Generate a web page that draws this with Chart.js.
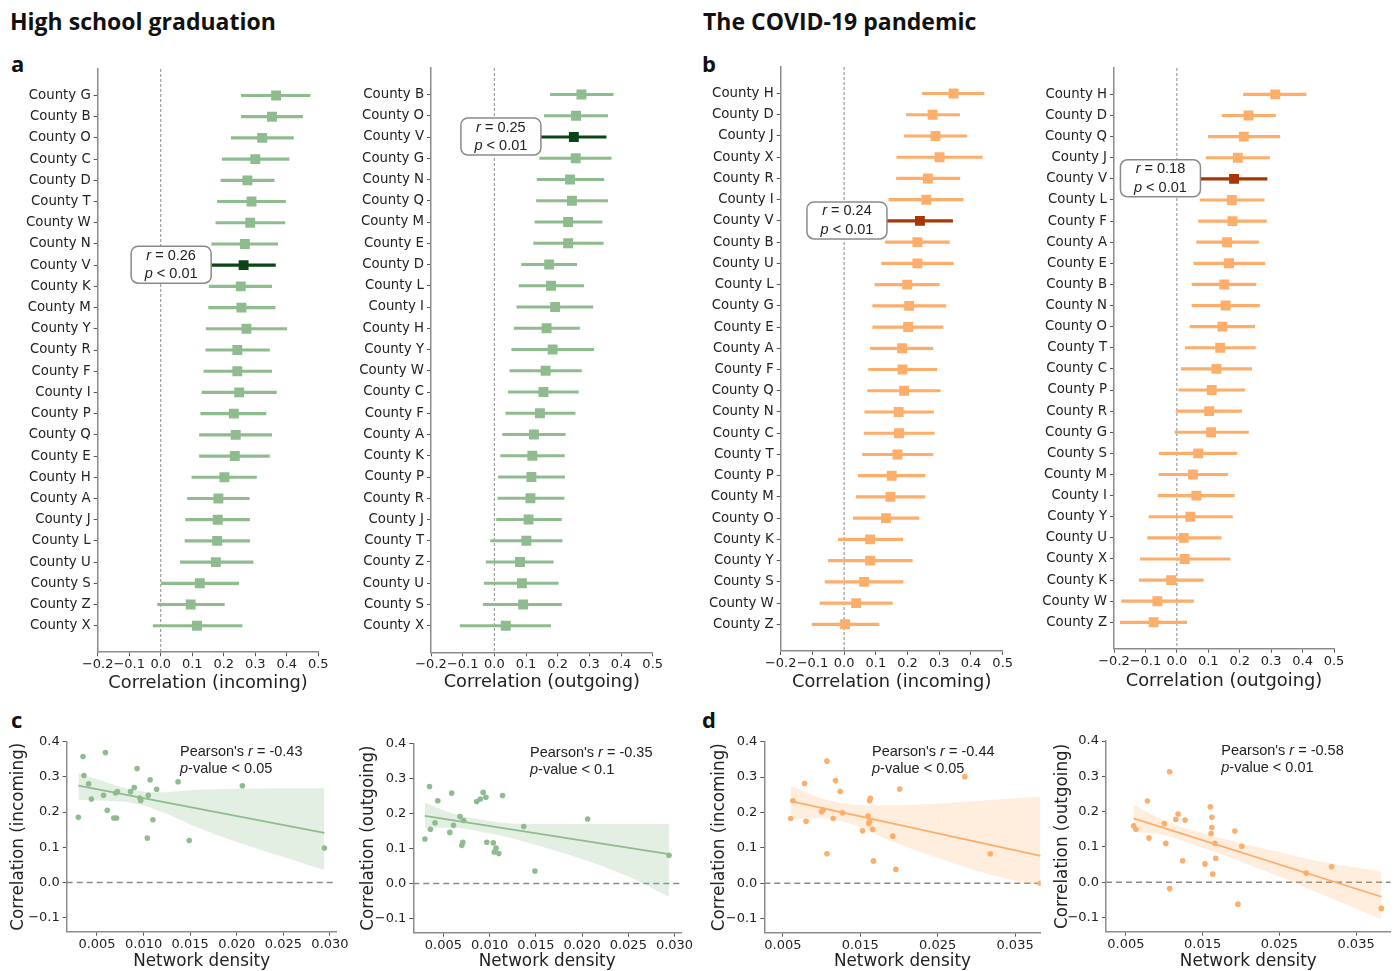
<!DOCTYPE html>
<html>
<head>
<meta charset="utf-8">
<title>Correlation and network density</title>
<script src="https://cdn.jsdelivr.net/npm/chart.js@4.4.1/dist/chart.umd.min.js"></script>
<style>
  html, body { margin: 0; padding: 0; background: #fff; }
  #page { position: relative; width: 1394px; height: 971px; overflow: hidden; }
  #page canvas { position: absolute; }
  .head { position: absolute; font-family: "Open Sans", sans-serif; font-weight: 700; color: #111; white-space: nowrap; line-height: 1; }
</style>
</head>
<body>
<div id="page">
  <div class="head" style="left:10px; top:10px; font-size:23px;">High school graduation</div>
  <div class="head" style="left:703px; top:10px; font-size:23px;">The COVID-19 pandemic</div>
  <div class="head" style="left:11px; top:52px; font-size:22px;">a</div>
  <div class="head" style="left:702px; top:52px; font-size:22px;">b</div>
  <div class="head" style="left:11px; top:708px; font-size:22px;">c</div>
  <div class="head" style="left:702px; top:708px; font-size:22px;">d</div>
</div>
<script>
// ---------- forest plots (panels a, b) ----------
const HIGHLIGHT = 'County V';

const hsInCounties = ['County G','County B','County O','County C','County D','County T','County W','County N','County V','County K','County M','County Y','County R','County F','County I','County P','County Q','County E','County H','County A','County J','County L','County U','County S','County Z','County X'];
const hsInR  = [0.366,0.353,0.322,0.300,0.275,0.288,0.284,0.267,0.263,0.254,0.256,0.272,0.243,0.243,0.249,0.232,0.238,0.235,0.202,0.183,0.181,0.179,0.175,0.124,0.095,0.115];
const hsInLo = [0.256,0.256,0.224,0.195,0.191,0.180,0.175,0.162,0.160,0.154,0.152,0.144,0.143,0.137,0.131,0.127,0.123,0.123,0.099,0.085,0.079,0.077,0.062,0.000,-0.010,-0.024];
const hsInHi = [0.474,0.450,0.421,0.407,0.360,0.396,0.394,0.371,0.364,0.352,0.363,0.400,0.345,0.352,0.367,0.334,0.352,0.345,0.304,0.281,0.282,0.282,0.293,0.247,0.202,0.258];

const hsOutCounties = ['County B','County O','County V','County G','County N','County Q','County M','County E','County D','County L','County I','County H','County Y','County W','County C','County F','County A','County K','County P','County R','County J','County T','County Z','County U','County S','County X'];
const hsOutR  = [0.275,0.258,0.251,0.257,0.239,0.245,0.233,0.233,0.173,0.179,0.192,0.165,0.184,0.162,0.155,0.144,0.125,0.120,0.117,0.114,0.108,0.101,0.081,0.087,0.091,0.036];
const hsOutLo = [0.177,0.158,0.147,0.143,0.135,0.133,0.128,0.124,0.086,0.078,0.071,0.063,0.055,0.049,0.044,0.036,0.026,0.020,0.013,0.011,0.007,-0.012,-0.026,-0.032,-0.035,-0.108];
const hsOutHi = [0.375,0.358,0.353,0.369,0.346,0.358,0.340,0.344,0.260,0.282,0.311,0.269,0.314,0.275,0.265,0.255,0.224,0.221,0.222,0.220,0.212,0.214,0.186,0.202,0.212,0.178];

const covInCounties = ['County H','County D','County J','County X','County R','County I','County V','County B','County U','County L','County G','County E','County A','County F','County Q','County N','County C','County T','County P','County M','County O','County K','County Y','County S','County W','County Z'];
const covInR  = [0.345,0.279,0.288,0.301,0.264,0.259,0.239,0.231,0.231,0.199,0.205,0.202,0.183,0.184,0.189,0.172,0.173,0.168,0.150,0.146,0.132,0.082,0.082,0.063,0.038,0.003];
const covInLo = [0.247,0.196,0.190,0.166,0.165,0.141,0.135,0.130,0.118,0.097,0.090,0.090,0.083,0.077,0.074,0.065,0.063,0.058,0.045,0.038,0.029,-0.018,-0.050,-0.060,-0.076,-0.101];
const covInHi = [0.441,0.364,0.387,0.436,0.365,0.375,0.342,0.332,0.344,0.300,0.321,0.312,0.280,0.292,0.303,0.282,0.284,0.280,0.255,0.255,0.236,0.185,0.215,0.186,0.152,0.110];

const covOutCounties = ['County H','County D','County Q','County J','County V','County L','County F','County A','County E','County B','County N','County O','County T','County C','County P','County R','County G','County S','County M','County I','County Y','County U','County X','County K','County W','County Z'];
const covOutR  = [0.313,0.228,0.213,0.194,0.182,0.175,0.177,0.160,0.166,0.151,0.155,0.145,0.138,0.126,0.111,0.103,0.109,0.068,0.051,0.062,0.043,0.022,0.025,-0.018,-0.062,-0.074];
const covOutLo = [0.212,0.144,0.100,0.093,0.075,0.074,0.069,0.063,0.054,0.048,0.048,0.042,0.027,0.014,0.006,-0.001,-0.006,-0.056,-0.057,-0.060,-0.089,-0.093,-0.116,-0.120,-0.176,-0.180];
const covOutHi = [0.411,0.314,0.328,0.295,0.287,0.278,0.285,0.260,0.280,0.252,0.263,0.248,0.250,0.238,0.216,0.206,0.228,0.191,0.162,0.183,0.177,0.141,0.169,0.084,0.053,0.031];

const highlightR = ['0.26', '0.25', '0.24', '0.18'];
const forestTicks = [-0.2, -0.1, 0.0, 0.1, 0.2, 0.3, 0.4, 0.5];

// ---------- scatter plots (panels c, d) ----------
const hsDensity = [0.0030,0.0035,0.0036,0.0041,0.0044,0.0057,0.0059,0.0061,0.0068,0.0070,0.0071,0.0072,0.0086,0.0090,0.0093,0.0096,0.0097,0.0104,0.0105,0.0107,0.0110,0.0114,0.0137,0.0149,0.0206,0.0294];
const hsInY  = [0.185,0.358,0.304,0.280,0.237,0.248,0.369,0.205,0.183,0.254,0.183,0.258,0.258,0.270,0.324,0.240,0.233,0.126,0.248,0.292,0.178,0.265,0.286,0.119,0.275,0.098];
const hsOutY = [0.127,0.277,0.155,0.173,0.236,0.146,0.258,0.166,0.191,0.109,0.118,0.180,0.234,0.241,0.260,0.246,0.118,0.116,0.090,0.101,0.086,0.251,0.163,0.036,0.184,0.081];

const covDensity = [0.0060,0.0063,0.0078,0.0080,0.0100,0.0102,0.0107,0.0107,0.0115,0.0118,0.0124,0.0127,0.0153,0.0160,0.0161,0.0162,0.0162,0.0163,0.0166,0.0167,0.0192,0.0196,0.0201,0.0285,0.0318,0.0383];
const covInY  = [0.183,0.233,0.282,0.175,0.202,0.207,0.345,0.083,0.183,0.290,0.259,0.199,0.148,0.190,0.169,0.175,0.233,0.240,0.152,0.063,0.133,0.039,0.266,0.301,0.083,0.000];
const covOutY = [0.160,0.150,0.230,0.125,0.166,0.110,0.313,-0.018,0.178,0.193,0.061,0.176,0.052,0.214,0.138,0.155,0.184,0.023,0.110,0.068,0.145,-0.062,0.102,0.026,0.044,-0.074];

// regression lines (end points) and confidence bands
const hsFitX = [0.0030, 0.0294];
const hsInFit = [0.275, 0.141];
const hsOutFit = [0.193, 0.084];
const covFitX = [0.0060, 0.0383];
const covInFit = [0.232, 0.077];
const covOutFit = [0.181, -0.041];

const hsBandX = [0.0030, 0.006, 0.009, 0.012, 0.015, 0.020, 0.025, 0.0294];
const hsInUpper  = [0.310, 0.285, 0.262, 0.256, 0.262, 0.266, 0.268, 0.268];
const hsInLower  = [0.235, 0.232, 0.225, 0.200, 0.165, 0.115, 0.072, 0.035];
const hsOutUpper = [0.231, 0.200, 0.183, 0.172, 0.170, 0.170, 0.170, 0.170];
const hsOutLower = [0.158, 0.160, 0.148, 0.132, 0.110, 0.070, 0.020, -0.038];

const covBandX = [0.0060, 0.010, 0.014, 0.018, 0.022, 0.026, 0.030, 0.0383];
const covInUpper  = [0.275, 0.240, 0.222, 0.220, 0.222, 0.226, 0.232, 0.245];
const covInLower  = [0.180, 0.184, 0.166, 0.128, 0.094, 0.064, 0.035, -0.010];
const covOutUpper = [0.219, 0.175, 0.145, 0.122, 0.100, 0.080, 0.060, 0.030];
const covOutLower = [0.143, 0.133, 0.105, 0.075, 0.042, 0.008, -0.030, -0.105];

const pearsonR = ['-0.43', '-0.35', '-0.44', '-0.58'];
const pValues = ['< 0.05', '< 0.1', '< 0.05', '< 0.01'];
const hsDensityTicks = [0.005, 0.010, 0.015, 0.020, 0.025, 0.030];
const covDensityTicks = [0.005, 0.015, 0.025, 0.035];
const corrTicks = [-0.1, 0.0, 0.1, 0.2, 0.3, 0.4];

// ---------- styling ----------
const GREEN = '#8fbc8f', GREEN_DARK = '#0b4517', GREEN_BAND = 'rgba(143,188,143,0.24)';
const ORANGE = '#fdae6b', ORANGE_DARK = '#a63603', ORANGE_BAND = 'rgba(253,174,107,0.22)';
const TEXT = '#222';
const SPINE = '#8c8c8c';
const NOTE_FONT = '"Liberation Sans", Arial, sans-serif';

Chart.defaults.font.family = '"DejaVu Sans", sans-serif';
Chart.defaults.color = TEXT;

const fmt1 = v => (Math.abs(v) < 1e-9 ? 0 : v).toFixed(1).replace('-', '\u2212');
const fmt3 = v => v.toFixed(3);

function makeCanvas(left, top, w, h) {
  const c = document.createElement('canvas');
  c.width = w; c.height = h;
  c.style.left = left + 'px'; c.style.top = top + 'px';
  c.style.width = w + 'px'; c.style.height = h + 'px';
  document.getElementById('page').appendChild(c);
  return c;
}

// mixed normal/italic text, e.g. "r = 0.26" with an italic r
function richWidth(ctx, parts, size) {
  let w = 0;
  for (const [t, it] of parts) {
    ctx.font = (it ? 'italic ' : '') + size + 'px ' + NOTE_FONT;
    w += ctx.measureText(t).width;
  }
  return w;
}
function drawRich(ctx, x, y, parts, size) {
  ctx.textBaseline = 'middle';
  ctx.textAlign = 'left';
  ctx.fillStyle = TEXT;
  for (const [t, it] of parts) {
    ctx.font = (it ? 'italic ' : '') + size + 'px ' + NOTE_FONT;
    ctx.fillText(t, x, y);
    x += ctx.measureText(t).width;
  }
}

function forest(f) {
  const sp = (f.rowBottom - f.rowTop) / (f.counties.length - 1);
  const top = f.rowTop - 1.25 * sp, bottom = f.rowBottom + 1.25 * sp;
  const cLeft = Math.round(f.spine - 95);
  const cTop = Math.floor(top - 10);
  const cBottom = Math.round(f.titleY + 16);
  const cW = Math.ceil(f.right + 13 - cLeft);
  const canvas = makeCanvas(cLeft, cTop, cW, cBottom - cTop);
  const hi = f.counties.indexOf(HIGHLIGHT);
  const colors = f.counties.map(c => c === HIGHLIGHT ? f.dark : f.color);

  const extras = {
    id: 'forestExtras',
    beforeDatasetsDraw(chart) {
      const {ctx, chartArea: a, scales: {x}} = chart;
      const px = x.getPixelForValue(0);
      ctx.save();
      ctx.strokeStyle = '#8a8a8a';
      ctx.lineWidth = 1;
      ctx.setLineDash([3, 2]);
      ctx.beginPath(); ctx.moveTo(px, a.top); ctx.lineTo(px, a.bottom); ctx.stroke();
      ctx.restore();
    },
    afterDatasetsDraw(chart) {
      const {ctx, scales: {x, y}} = chart;
      const l1 = [['r', true], [' = ' + f.note, false]];
      const l2 = [['p', true], [' < 0.01', false]];
      const size = 14.5;
      const w = 80, h = 37, r = 7;
      const right = x.getPixelForValue(f.lo[hi]);
      const cy = y.getPixelForValue(hi) - 0.5;
      const left = right - w, t = cy - h / 2;
      ctx.save();
      ctx.beginPath();
      ctx.moveTo(left + r, t);
      ctx.arcTo(right, t, right, t + h, r);
      ctx.arcTo(right, t + h, left, t + h, r);
      ctx.arcTo(left, t + h, left, t, r);
      ctx.arcTo(left, t, right, t, r);
      ctx.closePath();
      ctx.fillStyle = '#fff';
      ctx.fill();
      ctx.strokeStyle = '#8a8a8a';
      ctx.lineWidth = 1.5;
      ctx.stroke();
      const cx = left + w / 2;
      drawRich(ctx, cx - richWidth(ctx, l1, size) / 2, cy - 9, l1, size);
      drawRich(ctx, cx - richWidth(ctx, l2, size) / 2, cy + 9.5, l2, size);
      ctx.restore();
    }
  };

  new Chart(canvas, {
    type: 'bar',
    data: {
      datasets: [
        {
          type: 'line',
          data: f.r.map((v, i) => ({x: v, y: i})),
          showLine: false,
          pointStyle: 'rect',
          pointRadius: 7,
          pointHoverRadius: 7,
          pointBackgroundColor: colors,
          pointBorderColor: colors,
          pointBorderWidth: 0
        },
        {
          type: 'bar',
          data: f.lo.map((v, i) => ({x: [v, f.hi[i]], y: i})),
          backgroundColor: colors,
          borderWidth: 0,
          barThickness: 2.5
        }
      ]
    },
    options: {
      indexAxis: 'y',
      responsive: false,
      animation: false,
      devicePixelRatio: 1,
      layout: {padding: {top: top - cTop, right: cLeft + cW - f.right, left: 0, bottom: 0}},
      plugins: {legend: {display: false}, tooltip: {enabled: false}},
      scales: {
        y: {
          type: 'linear',
          min: -1.25,
          max: f.counties.length - 1 + 1.25,
          reverse: true,
          offset: false,
          afterBuildTicks: s => { s.ticks = f.counties.map((c, i) => ({value: i})); },
          afterFit: s => { s.width = f.spine - cLeft; },
          ticks: {autoSkip: false, padding: 3, font: {size: 13.3}, color: TEXT,
                  callback: v => f.counties[v]},
          grid: {drawOnChartArea: false, offset: false, tickLength: 4, color: '#555'},
          border: {color: SPINE, width: 1.5}
        },
        x: {
          type: 'linear',
          min: -0.2,
          max: 0.5,
          afterBuildTicks: s => { s.ticks = forestTicks.map(v => ({value: v})); },
          afterFit: s => { s.height = cBottom - cTop - (bottom - cTop); },
          ticks: {autoSkip: false, maxRotation: 0, padding: 1, font: {size: 13}, color: TEXT,
                  callback: v => fmt1(v)},
          grid: {drawOnChartArea: false, tickLength: 4, color: '#555'},
          border: {color: SPINE, width: 1.5},
          title: {display: true, text: f.title, font: {size: 17.8}, color: TEXT,
                  padding: {top: 0, bottom: 5.5}}
        }
      }
    },
    plugins: [extras]
  });
}

function scatter(s) {
  const cTop = Math.floor(s.plotTop - 12);
  const cBottom = 975;
  const cW = Math.ceil(s.plotRight + s.padRight - s.canvasLeft);
  const canvas = makeCanvas(s.canvasLeft, cTop, cW, cBottom - cTop);

  const extras = {
    id: 'scatterExtras',
    beforeDatasetsDraw(chart) {
      const {ctx, chartArea: a, scales: {y}} = chart;
      const py = y.getPixelForValue(0);
      ctx.save();
      ctx.strokeStyle = '#8a8a8a';
      ctx.lineWidth = 1.5;
      ctx.setLineDash([6, 4]);
      ctx.beginPath(); ctx.moveTo(a.left, py); ctx.lineTo(a.right, py); ctx.stroke();
      ctx.restore();
    },
    afterDatasetsDraw(chart) {
      const {ctx, chartArea: a} = chart;
      const x = a.left + s.textFrac * (a.right - a.left);
      ctx.save();
      drawRich(ctx, x, a.top + 10, [["Pearson's ", false], ['r', true], [' = ' + s.r, false]], 14.5);
      drawRich(ctx, x, a.top + 27, [['p', true], ['-value ' + s.p, false]], 14.5);
      ctx.restore();
    }
  };

  new Chart(canvas, {
    type: 'scatter',
    data: {
      datasets: [
        {
          data: s.density.map((d, i) => ({x: d, y: s.values[i]})),
          backgroundColor: s.color,
          borderWidth: 0,
          pointRadius: 2.8,
          pointHoverRadius: 2.8
        },
        {
          type: 'line',
          data: s.fitX.map((d, i) => ({x: d, y: s.fitY[i]})),
          borderColor: s.color,
          borderWidth: 1.8,
          pointRadius: 0,
          fill: false
        },
        {
          type: 'line',
          data: s.bandX.map((d, i) => ({x: d, y: s.upper[i]})),
          borderWidth: 0,
          borderColor: 'rgba(0,0,0,0)',
          pointRadius: 0,
          cubicInterpolationMode: 'monotone',
          backgroundColor: s.band,
          fill: '+1'
        },
        {
          type: 'line',
          data: s.bandX.map((d, i) => ({x: d, y: s.lower[i]})),
          borderWidth: 0,
          borderColor: 'rgba(0,0,0,0)',
          pointRadius: 0,
          cubicInterpolationMode: 'monotone',
          fill: false
        }
      ]
    },
    options: {
      responsive: false,
      animation: false,
      devicePixelRatio: 1,
      layout: {padding: {top: s.plotTop - cTop, right: s.canvasLeft + cW - s.plotRight, left: 0, bottom: 0}},
      plugins: {legend: {display: false}, tooltip: {enabled: false}},
      scales: {
        x: {
          type: 'linear',
          min: s.xMin,
          max: s.xMax,
          afterBuildTicks: sc => { sc.ticks = s.xTicks.map(v => ({value: v})); },
          afterFit: sc => { sc.height = cBottom - s.plotBottom; },
          ticks: {autoSkip: false, maxRotation: 0, padding: 1, font: {size: 13}, color: TEXT,
                  callback: v => fmt3(v)},
          grid: {drawOnChartArea: false, tickLength: 4, color: '#555'},
          border: {color: SPINE, width: 1.5},
          title: {display: true, text: 'Network density', font: {size: 16.8}, color: TEXT,
                  padding: {top: 0, bottom: 3}}
        },
        y: {
          type: 'linear',
          min: -0.14,
          max: 0.40,
          afterBuildTicks: sc => { sc.ticks = corrTicks.map(v => ({value: v})); },
          afterFit: sc => { sc.width = s.plotLeft - s.canvasLeft; },
          ticks: {autoSkip: false, padding: 3, font: {size: 13}, color: TEXT,
                  callback: v => fmt1(v)},
          grid: {drawOnChartArea: false, tickLength: 4, color: '#555'},
          border: {color: SPINE, width: 1.5},
          title: {display: true, text: s.yTitle, font: {size: 16.8}, color: TEXT,
                  padding: {top: s.yTitleX - s.canvasLeft - 10, bottom: 0}}
        }
      }
    },
    plugins: [extras]
  });
}

forest({counties: hsInCounties, r: hsInR, lo: hsInLo, hi: hsInHi, note: highlightR[0],
        title: 'Correlation (incoming)', color: GREEN, dark: GREEN_DARK,
        spine: 97.7, right: 318.3, rowTop: 95, rowBottom: 625.7, titleY: 684});
forest({counties: hsOutCounties, r: hsOutR, lo: hsOutLo, hi: hsOutHi, note: highlightR[1],
        title: 'Correlation (outgoing)', color: GREEN, dark: GREEN_DARK,
        spine: 431, right: 652.7, rowTop: 93.7, rowBottom: 625.7, titleY: 683});
forest({counties: covInCounties, r: covInR, lo: covInLo, hi: covInHi, note: highlightR[2],
        title: 'Correlation (incoming)', color: ORANGE, dark: ORANGE_DARK,
        spine: 780.7, right: 1002.7, rowTop: 93.3, rowBottom: 624.3, titleY: 683});
forest({counties: covOutCounties, r: covOutR, lo: covOutLo, hi: covOutHi, note: highlightR[3],
        title: 'Correlation (outgoing)', color: ORANGE, dark: ORANGE_DARK,
        spine: 1114, right: 1334, rowTop: 94, rowBottom: 622.3, titleY: 681.5});

scatter({density: hsDensity, values: hsInY, fitX: hsFitX, fitY: hsInFit, bandX: hsBandX,
         upper: hsInUpper, lower: hsInLower, r: pearsonR[0], p: pValues[0],
         color: GREEN, band: GREEN_BAND, yTitle: 'Correlation (incoming)', xTicks: hsDensityTicks,
         xMin: 0.00175, xMax: 0.0307, canvasLeft: 0, plotLeft: 66.7, plotRight: 336.5,
         plotTop: 741.7, plotBottom: 931.7, padRight: 18.5, yTitleX: 19, textFrac: 0.42});
scatter({density: hsDensity, values: hsOutY, fitX: hsFitX, fitY: hsOutFit, bandX: hsBandX,
         upper: hsOutUpper, lower: hsOutLower, r: pearsonR[1], p: pValues[1],
         color: GREEN, band: GREEN_BAND, yTitle: 'Correlation (outgoing)', xTicks: hsDensityTicks,
         xMin: 0.00175, xMax: 0.0307, canvasLeft: 350, plotLeft: 413.3, plotRight: 681,
         plotTop: 743.3, plotBottom: 932.7, padRight: 18, yTitleX: 369, textFrac: 0.436});
scatter({density: covDensity, values: covInY, fitX: covFitX, fitY: covInFit, bandX: covBandX,
         upper: covInUpper, lower: covInLower, r: pearsonR[2], p: pValues[2],
         color: ORANGE, band: ORANGE_BAND, yTitle: 'Correlation (incoming)', xTicks: covDensityTicks,
         xMin: 0.0026, xMax: 0.0383, canvasLeft: 700, plotLeft: 764.3, plotRight: 1040.6,
         plotTop: 741.7, plotBottom: 932.7, padRight: 9, yTitleX: 720, textFrac: 0.39});
scatter({density: covDensity, values: covOutY, fitX: covFitX, fitY: covOutFit, bandX: covBandX,
         upper: covOutUpper, lower: covOutLower, r: pearsonR[3], p: pValues[3],
         color: ORANGE, band: ORANGE_BAND, yTitle: 'Correlation (outgoing)', xTicks: covDensityTicks,
         xMin: 0.0024, xMax: 0.0395, canvasLeft: 1040, plotLeft: 1106, plotRight: 1390.6,
         plotTop: 741, plotBottom: 931.7, padRight: 3.4, yTitleX: 1063, textFrac: 0.405});
</script>
</body>
</html>
